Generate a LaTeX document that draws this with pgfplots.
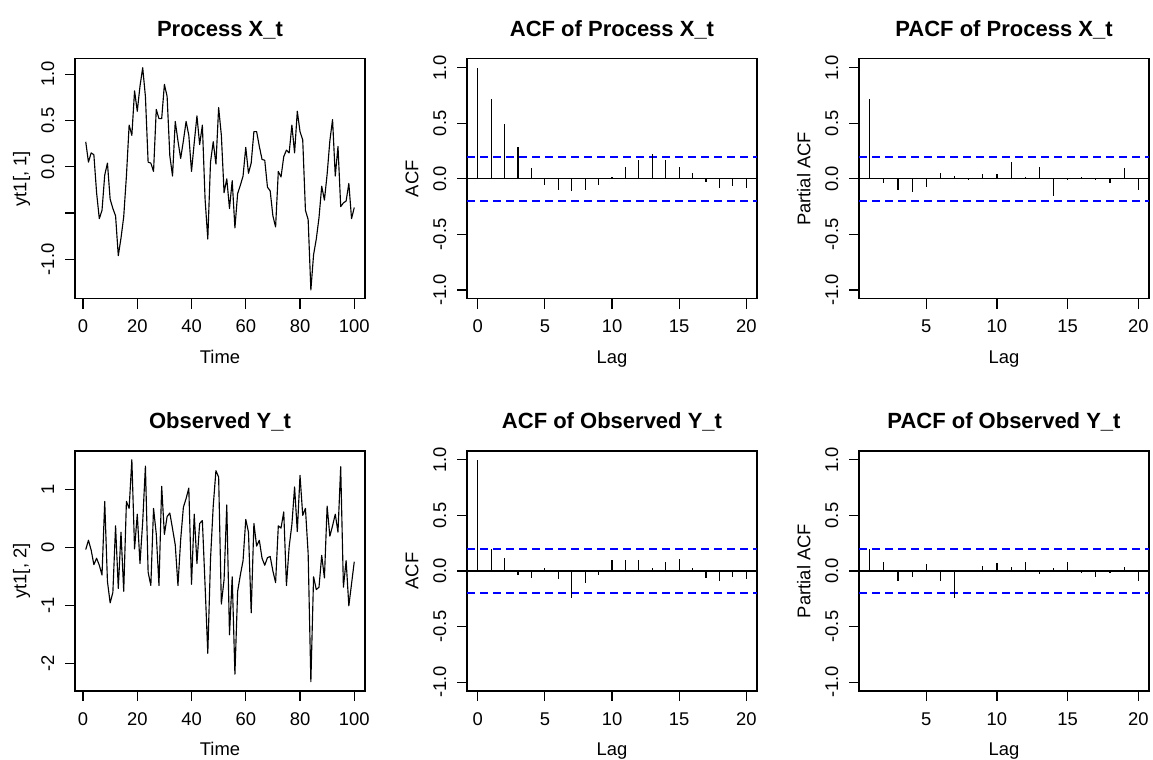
\documentclass[border=0pt]{standalone}
\usepackage{fontspec}
\setmainfont{Liberation Sans}
\usepackage{pgfplots}
\usepackage{pgfplotstable}
\pgfplotsset{compat=1.18}
\newcommand{\tfs}{\fontsize{13.8pt}{16pt}\selectfont}
\newcommand{\ttl}{\fontsize{16.5pt}{19pt}\selectfont\bfseries}
\definecolor{rblue}{RGB}{0,0,255}

\pgfplotstableread{
t v
1 0.27
2 0.05
3 0.15
4 0.13
5 -0.28
6 -0.56
7 -0.47
8 -0.09
9 0.04
10 -0.35
11 -0.45
12 -0.53
13 -0.96
14 -0.77
15 -0.54
16 -0.10
17 0.45
18 0.34
19 0.82
20 0.60
21 0.87
22 1.07
23 0.76
24 0.05
25 0.04
26 -0.05
27 0.62
28 0.52
29 0.52
30 0.89
31 0.76
32 0.12
33 -0.10
34 0.49
35 0.28
36 0.09
37 0.28
38 0.49
39 0.34
40 -0.05
41 0.26
42 0.55
43 0.24
44 0.45
45 -0.35
46 -0.78
47 0.05
48 0.27
49 0.03
50 0.64
51 0.34
52 -0.28
53 -0.13
54 -0.45
55 -0.15
56 -0.66
57 -0.29
58 -0.20
59 -0.10
60 0.21
61 -0.07
62 0.04
63 0.38
64 0.38
65 0.22
66 0.08
67 0.07
68 -0.22
69 -0.26
70 -0.53
71 -0.65
72 -0.05
73 -0.11
74 0.11
75 0.18
76 0.15
77 0.45
78 0.15
79 0.60
80 0.38
81 0.29
82 -0.47
83 -0.57
84 -1.33
85 -0.95
86 -0.78
87 -0.55
88 -0.21
89 -0.36
90 -0.08
91 0.28
92 0.51
93 -0.10
94 0.22
95 -0.43
96 -0.39
97 -0.37
98 -0.18
99 -0.56
100 -0.44
}\seriesX

\pgfplotstableread{
t v
1 -0.03
2 0.13
3 -0.04
4 -0.29
5 -0.18
6 -0.30
7 -0.47
8 0.80
9 -0.58
10 -0.95
11 -0.77
12 0.38
13 -0.70
14 0.27
15 -0.75
16 0.80
17 0.68
18 1.52
19 -0.02
20 0.58
21 -0.27
22 0.45
23 1.41
24 -0.42
25 -0.65
26 0.68
27 0.24
28 -0.65
29 1.06
30 0.23
31 0.54
32 0.60
33 0.33
34 0.05
35 -0.65
36 0.14
37 0.70
38 0.85
39 1.03
40 -0.63
41 0.58
42 -0.27
43 0.42
44 0.47
45 -0.65
46 -1.82
47 -0.20
48 0.72
49 1.33
50 1.22
51 -0.97
52 -0.55
53 0.74
54 -1.50
55 -0.50
56 -2.18
57 -0.75
58 -0.47
59 -0.22
60 0.49
61 0.27
62 -1.12
63 0.42
64 0.03
65 0.13
66 -0.18
67 -0.30
68 -0.17
69 -0.15
70 -0.40
71 -0.60
72 0.38
73 0.34
74 0.62
75 -0.65
76 0.02
77 0.40
78 1.05
79 0.28
80 1.25
81 0.56
82 0.68
83 -0.10
84 -2.31
85 -0.50
86 -0.72
87 -0.68
88 -0.13
89 -0.52
90 0.72
91 0.20
92 0.38
93 0.58
94 0.27
95 1.40
96 -0.68
97 -0.22
98 -1.00
99 -0.62
100 -0.24
}\seriesY

\pgfplotstableread{
lag acf
0 1.0
1 0.715
2 0.492
3 0.282
4 0.095
5 -0.052
6 -0.100
7 -0.110
8 -0.100
9 -0.055
10 0.013
11 0.108
12 0.166
13 0.226
14 0.166
15 0.108
16 0.050
17 -0.025
18 -0.087
19 -0.065
20 -0.087
}\acfX

\pgfplotstableread{
lag acf
0 1.0
1 0.198
2 0.118
3 -0.039
4 -0.062
5 0.025
6 -0.073
7 -0.247
8 -0.108
9 -0.039
10 0.095
11 0.095
12 0.095
13 0.025
14 0.082
15 0.107
16 0.025
17 -0.062
18 -0.094
19 -0.050
20 -0.073
}\acfY

\pgfplotstableread{
lag pacf
1 0.715
2 -0.035
3 -0.098
4 -0.118
5 -0.073
6 0.050
7 0.025
8 -0.006
9 0.039
10 0.040
11 0.154
12 0.013
13 0.107
14 -0.152
15 -0.013
16 0.013
17 -0.015
18 -0.037
19 0.096
20 -0.097
}\pacfX

\pgfplotstableread{
lag pacf
1 0.198
2 0.081
3 -0.087
4 -0.051
5 0.060
6 -0.087
7 -0.246
8 0.006
9 0.048
10 0.072
11 0.036
12 0.081
13 -0.027
14 0.024
15 0.081
16 -0.015
17 -0.051
18 -0.015
19 0.036
20 -0.087
}\pacfY

\pgfplotsset{
  rpanel/.style={
    anchor=south west, scale only axis, width=217.5pt, height=180pt,
    axis line style={black, line width=0.9pt},
    tick align=outside, major tick length=7.3pt,
    tick style={black, line width=0.9pt},
    xtick pos=left, ytick pos=left,
    every tick label/.style={font=\tfs, text=black},
    /pgf/number format/assume math mode=true,
    xticklabel style={anchor=base, yshift=-18.2pt},
    yticklabel style={xshift=-8.3pt, rotate=90, anchor=base},
    xlabel style={at={(axis description cs:0.5,-0.2704)}, anchor=base, font=\tfs},
    ylabel style={at={(axis description cs:-0.168,0.5)}, anchor=base, font=\tfs},
    title style={at={(axis description cs:0.5,1.0585)}, anchor=base, font=\ttl},
  },
  tsline/.style={black, line width=0.85pt, line join=round},
  spike/.style={ycomb, black, line width=0.85pt},
  zline/.style={black, line width=0.85pt},
  ciline/.style={color=rblue, line width=1.6pt, dash pattern=on 6pt off 3.75pt},
  acfaxis/.style={rpanel, ymin=-1.08, ymax=1.08,
    ytick={-1,-0.5,0,0.5,1}, yticklabels={-1.0,-0.5,0.0,0.5,1.0}},
}

\begin{document}
\begin{tikzpicture}
\path[use as bounding box] (0,0) rectangle (864.75pt,570pt);

% Row 1
\begin{axis}[rpanel, at={(56.25pt,345.875pt)},
  xmin=-2.96, xmax=103.96, ymin=-1.426, ymax=1.166,
  xtick={0,20,40,60,80,100}, xticklabels={0,20,40,60,80,100},
  ytick={-1,-0.5,0,0.5,1}, yticklabels={-1.0,{},0.0,0.5,1.0},
  title={Process X\_t}, xlabel={Time}, ylabel={yt1[, 1]}]
\addplot[tsline] table[x=t,y=v] {\seriesX};
\end{axis}

\begin{axis}[acfaxis, at={(350.25pt,345.875pt)},
  xmin=-0.8, xmax=20.8,
  xtick={0,5,10,15,20}, xticklabels={0,5,10,15,20},
  title={ACF of Process X\_t}, xlabel={Lag}, ylabel={ACF}]
\addplot[zline] coordinates {(-0.8,0) (20.8,0)};
\addplot[ciline] coordinates {(-0.8,0.196) (20.8,0.196)};
\addplot[ciline] coordinates {(-0.8,-0.196) (20.8,-0.196)};
\addplot[spike] table[x=lag,y=acf] {\acfX};
\end{axis}

\begin{axis}[acfaxis, at={(644.25pt,345.875pt)},
  xmin=0.24, xmax=20.76,
  xtick={5,10,15,20}, xticklabels={5,10,15,20},
  title={PACF of Process X\_t}, xlabel={Lag}, ylabel={Partial ACF}]
\addplot[zline] coordinates {(0.24,0) (20.76,0)};
\addplot[ciline] coordinates {(0.24,0.196) (20.76,0.196)};
\addplot[ciline] coordinates {(0.24,-0.196) (20.76,-0.196)};
\addplot[spike] table[x=lag,y=pacf] {\pacfX};
\end{axis}

% Row 2
\begin{axis}[rpanel, at={(56.25pt,51.75pt)},
  xmin=-2.96, xmax=103.96, ymin=-2.47, ymax=1.67,
  xtick={0,20,40,60,80,100}, xticklabels={0,20,40,60,80,100},
  ytick={-2,-1,0,1}, yticklabels={-2,-1,0,1},
  title={Observed Y\_t}, xlabel={Time}, ylabel={yt1[, 2]}]
\addplot[tsline] table[x=t,y=v] {\seriesY};
\end{axis}

\begin{axis}[acfaxis, at={(350.25pt,51.75pt)},
  xmin=-0.8, xmax=20.8,
  xtick={0,5,10,15,20}, xticklabels={0,5,10,15,20},
  title={ACF of Observed Y\_t}, xlabel={Lag}, ylabel={ACF}]
\addplot[zline] coordinates {(-0.8,0) (20.8,0)};
\addplot[ciline] coordinates {(-0.8,0.196) (20.8,0.196)};
\addplot[ciline] coordinates {(-0.8,-0.196) (20.8,-0.196)};
\addplot[spike] table[x=lag,y=acf] {\acfY};
\end{axis}

\begin{axis}[acfaxis, at={(644.25pt,51.75pt)},
  xmin=0.24, xmax=20.76,
  xtick={5,10,15,20}, xticklabels={5,10,15,20},
  title={PACF of Observed Y\_t}, xlabel={Lag}, ylabel={Partial ACF}]
\addplot[zline] coordinates {(0.24,0) (20.76,0)};
\addplot[ciline] coordinates {(0.24,0.196) (20.76,0.196)};
\addplot[ciline] coordinates {(0.24,-0.196) (20.76,-0.196)};
\addplot[spike] table[x=lag,y=pacf] {\pacfY};
\end{axis}
\end{tikzpicture}
\end{document}
